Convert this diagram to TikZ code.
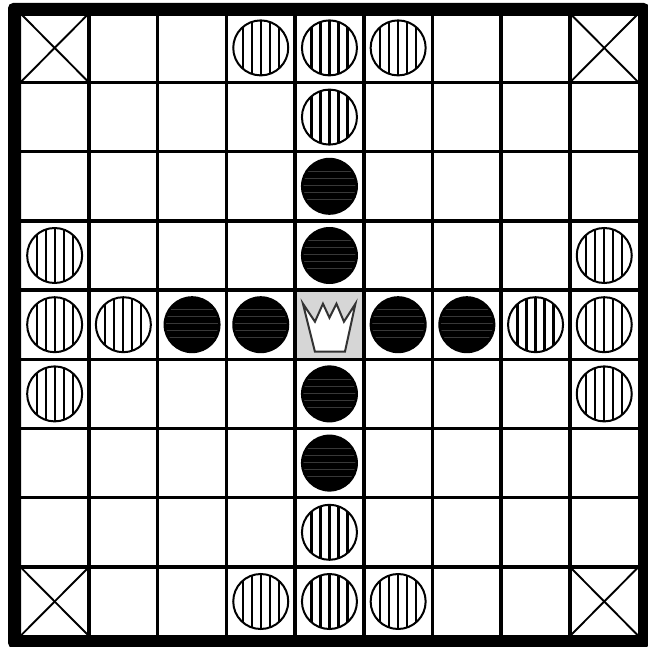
\documentclass[tikz,border=0pt]{standalone}
\begin{document}
\begin{tikzpicture}[x=1pt,y=-1pt,
  gridline/.style={line width=3.5pt,black},
  thinline/.style={line width=1.9pt,black},
  stripeline/.style={line width=2.2pt,black},
  stripedpiece/.pic={
    \begin{scope}
      \clip (0,0) circle (27.5);
      \foreach \d in {-18,-9,0,9,18} \draw[stripeline] (\d,-30) -- (\d,30);
    \end{scope}
    \draw[line width=2pt,black] (0,0) circle (27.5);
  },
  blackpiece/.pic={
    \fill[black] (0,0) circle (28.5);
    \begin{scope}
      \clip (0,0) circle (26);
      \foreach \d in {-15,-8,-1,6,13} \draw[line width=0.7pt,black!78] (-30,\d) -- (30,\d);
    \end{scope}
  },
  kingpiece/.pic={
    \draw[line width=2pt,black!80,fill=white,line join=miter]
      (-26.5,-21) -- (-14.5,-3) -- (-6.5,-21) -- (0,-7) -- (7,-21) -- (14.5,-3)
      -- (26,-21) -- (15.5,27) -- (-14.5,27) -- cycle;
  }]
\useasboundingbox (0,0) rectangle (648,647);
\fill[white] (0,0) rectangle (648,647);
\def\cx#1{20.3+68.7*(#1)}
\def\cy#1{13.3+69.2*(#1)}
% king cell background
\fill[black!16] ({\cx{4}},{\cy{4}}) rectangle ({\cx{5}},{\cy{5}});
% corner crosses
\foreach \c/\r in {0/0,8/0,0/8,8/8} {
  \draw[thinline] ({\cx{\c}},{\cy{\r}}) -- ({\cx{\c+1}},{\cy{\r+1}});
  \draw[thinline] ({\cx{\c+1}},{\cy{\r}}) -- ({\cx{\c}},{\cy{\r+1}});
}
% grid
\foreach \k in {1,...,8} {
  \draw[gridline] ({\cx{\k}},10) -- ({\cx{\k}},640);
  \draw[gridline] (15,{\cy{\k}}) -- (642,{\cy{\k}});
}
% border
\fill[black,even odd rule] [rounded corners=5pt] (8,3) rectangle (649,648)
  [sharp corners] (21,16) rectangle (638,635);
% striped pieces
\foreach \c/\r in {3/0,4/0,5/0,4/1,0/3,8/3,0/4,1/4,7/4,8/4,0/5,8/5,4/7,3/8,4/8,5/8}
  \pic at ({\cx{\c+0.5}},{\cy{\r+0.5}}) {stripedpiece};
% black pieces
\foreach \c/\r in {4/2,4/3,2/4,3/4,5/4,6/4,4/5,4/6}
  \pic at ({\cx{\c+0.5}},{\cy{\r+0.5}}) {blackpiece};
% king
\pic at ({\cx{4.5}},{\cy{4.5}}) {kingpiece};
\end{tikzpicture}
\end{document}
